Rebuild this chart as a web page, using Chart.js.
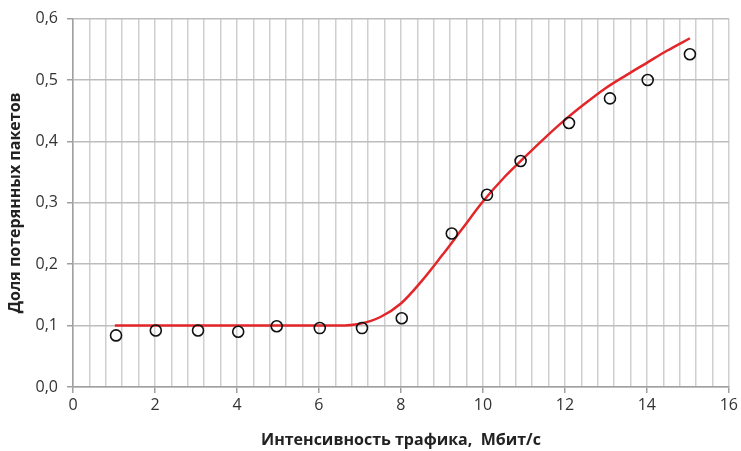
<!DOCTYPE html>
<html><head><meta charset="utf-8">
<script src="https://cdn.jsdelivr.net/npm/chart.js@4/dist/chart.umd.min.js"></script>
<style>html,body{margin:0;padding:0;background:#fff}#wrap{width:741px;height:451px}</style>
</head><body><div id="wrap"><canvas id="c" width="741" height="451"></canvas></div>
<script>
const obsX = [1.05, 2.02, 3.05, 4.03, 4.97, 6.02, 7.05, 8.02, 9.24, 10.1, 10.92, 12.1, 13.1, 14.02, 15.05];
const obsY = [0.084, 0.092, 0.092, 0.090, 0.099, 0.096, 0.096, 0.112, 0.250, 0.313, 0.368, 0.430, 0.470, 0.500, 0.542];
const fitX = [1.02, 2, 3, 4, 5, 6, 6.5, 7, 7.5, 8, 8.5, 9, 9.5, 10, 10.5, 11, 11.5, 12, 12.5, 13, 13.5, 14, 14.5, 15.05];
const fitY = [0.100, 0.100, 0.100, 0.100, 0.100, 0.100, 0.100, 0.103, 0.114, 0.136, 0.172, 0.214, 0.258, 0.302, 0.340, 0.373, 0.405, 0.435, 0.462, 0.487, 0.508, 0.528, 0.548, 0.568];
const xTickLabels = ['0','2','4','6','8','10','12','14','16'];
const yTickLabels = ['0,0','0,1','0,2','0,3','0,4','0,5','0,6'];
const xTitle = 'Интенсивность трафика,  Мбит/с';
const yTitle = 'Доля потерянных пакетов';

const obsPts = obsX.map((x,i)=>({x:x,y:obsY[i]}));
const fitPts = fitX.map((x,i)=>({x:x,y:fitY[i]}));
const isMajor = v => Math.abs(v/2 - Math.round(v/2)) < 1e-6;

new Chart(document.getElementById('c'), {
  type: 'scatter',
  data: { datasets: [
    { data: fitPts, showLine: true, borderColor: '#e3262a', borderWidth: 2.5, pointRadius: 0, cubicInterpolationMode: 'monotone', order: 2 },
    { data: obsPts, showLine: false, pointRadius: 5.5, pointBorderWidth: 1.6, pointBorderColor: '#111', pointBackgroundColor: 'rgba(255,255,255,0)', order: 1 }
  ]},
  options: {
    responsive: false, animation: false, devicePixelRatio: 1,
    layout: { padding: { top: 17, right: 12, left: 0, bottom: 0 } },
    plugins: { legend: { display: false }, tooltip: { enabled: false } },
    scales: {
      x: {
        type: 'linear', min: 0, max: 16,
        afterBuildTicks: s => { const t=[]; for (let i=0;i<=40;i++) t.push({value: +(i*0.4).toFixed(2)}); s.ticks = t; },
        afterFit: s => { s.height = 64; },
        grid: { color: '#cfcfcf', lineWidth: 1.5, tickLength: 6,
                tickColor: ctx => (ctx.tick && isMajor(ctx.tick.value)) ? '#a0a0a0' : 'rgba(0,0,0,0)' },
        border: { color: '#a0a0a0', width: 1.5 },
        ticks: { autoSkip: false, maxRotation: 0, padding: 3, color: '#333',
                 font: { family: 'Open Sans', size: 16 },
                 callback: v => isMajor(v) ? xTickLabels[Math.round(v/2)] : '' },
        title: { display: true, text: xTitle, color: '#222', padding: { top: 2, bottom: 1 },
                 font: { family: 'Open Sans', size: 16, weight: 'bold' } }
      },
      y: {
        type: 'linear', min: 0, max: 0.6,
        afterBuildTicks: s => { const t=[]; for (let i=0;i<=6;i++) t.push({value: +(i*0.1).toFixed(2)}); s.ticks = t; },
        afterFit: s => { s.width = 73; },
        grid: { color: '#bdbdbd', lineWidth: 1.5, tickLength: 6, tickColor: '#a0a0a0' },
        border: { color: '#a0a0a0', width: 1.5 },
        ticks: { padding: 9, color: '#333', font: { family: 'Open Sans', size: 16 },
                 callback: (v) => yTickLabels[Math.round(v*10)] },
        title: { display: true, text: yTitle, color: '#222', padding: { top: 6, bottom: 0 },
                 font: { family: 'Open Sans', size: 16, weight: 'bold' } }
      }
    }
  }
});
</script></body></html>
